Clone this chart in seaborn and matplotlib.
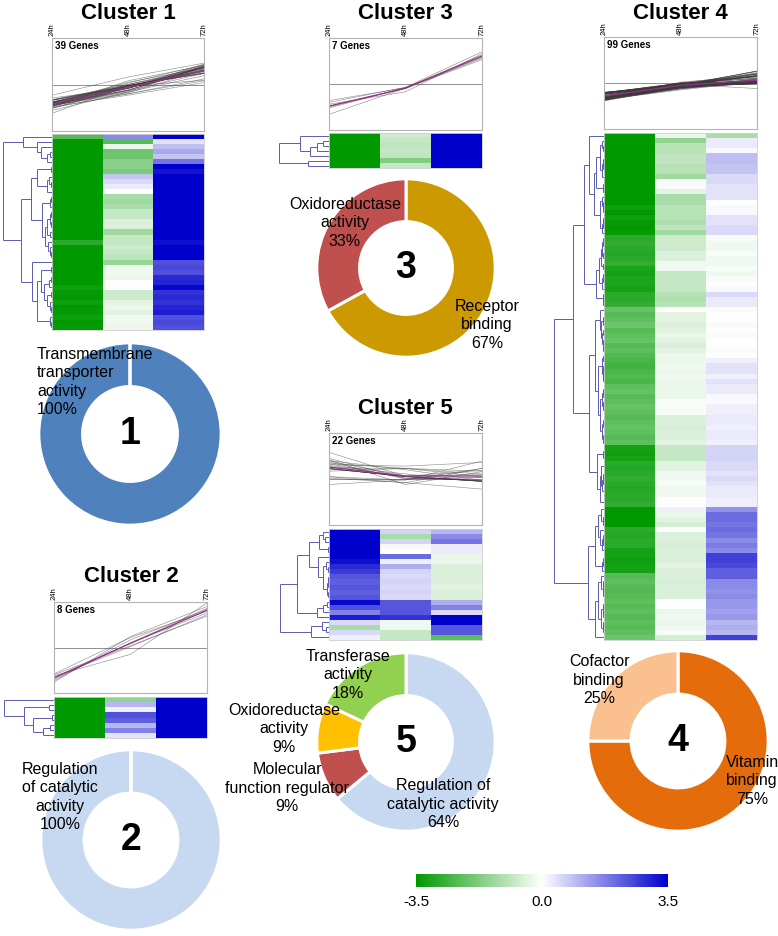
import numpy as np
import pandas as pd
import matplotlib
matplotlib.use("Agg")
import matplotlib.pyplot as plt
import seaborn as sns
from matplotlib.colors import LinearSegmentedColormap, Normalize
from matplotlib.cm import ScalarMappable

# ---------------- data ----------------
# expression values per gene (heatmap colour saturates at +-3.5)
TIMES = ["24h", "48h", "72h"]

C1_24h = [-2.3, -4.8, -5.2, -4.5, -5.0, -4.2, -5.6, -4.4, -4.9, -3.9, -4.1, -3.8, -4.6, -4.3,
          -4.0, -3.7, -4.4, -4.1, -3.9, -4.2, -4.5, -2.9, -4.0, -3.8, -4.3, -4.6, -4.1, -3.9,
          -4.4, -4.7, -3.3, -3.4, -5.1, -3.3, -6.2, -3.4, -3.3, -3.8, -3.4]
C1_48h = [1.6, -2.3, -0.3, -2.0, -2.0, -1.6, -1.6, -1.8, 0.8, 0.5, 0.3, 0.0, -1.2, -1.3,
          -1.2, -0.8, -0.8, -0.5, -0.5, -1.3, -0.8, -0.8, -0.7, -0.8, -0.9, -1.4, -0.3, -0.2,
          -0.3, 0.0, 0.0, -0.7, -0.7, -0.4, -0.3, -0.4, -0.2, -0.2, -0.3]
C1_72h = [4.6, 0.4, 0.9, 1.2, 0.8, 1.9, 3.9, 3.2, 4.1, 3.6, 4.3, 3.8, 3.7, 4.0,
          3.5, 4.4, 3.9, 3.6, 4.2, 3.8, 3.7, 3.3, 4.0, 3.6, 3.9, 2.4, 2.5, 2.4,
          2.9, 3.0, 3.4, 2.8, 2.9, 2.8, 3.0, 3.1, 2.4, 2.5, 2.4]

C2_24h = [-6.2, -7.0, -6.5, -7.6, -5.8, -6.8, -7.3, -6.0]
C2_48h = [-1.5, 1.0, 0.2, 2.4, 2.2, 1.0, 1.7, 0.4]
C2_72h = [9.8, 8.6, 7.2, 9.0, 8.0, 7.6, 8.4, 6.9]

C3_24h = [-4.0, -3.6, -4.8, -5.2, -6.6, -4.4, -5.0]
C3_48h = [-0.7, -0.8, -0.9, -0.8, -0.9, -1.7, -0.8]
C3_72h = [7.0, 6.3, 5.6, 6.0, 5.3, 6.6, 5.8]

C4_24h = [-3.5, -3.6, -3.8, -3.5, -3.7, -3.6, -3.9, -3.5, -3.6, -3.8, -3.5, -3.7, -3.6, -3.5,
          -3.3, -3.5, -3.3, -3.4, -3.5, -3.4,
          -2.9, -2.8, -2.9, -3.0, -2.9, -2.8,
          -3.1, -3.2, -3.1, -3.1, -3.2,
          -2.9, -2.9, -2.8,
          -2.1, -2.3, -2.2, -2.0, -2.3, -2.2, -2.1, -2.3, -2.2, -2.4,
          -2.5, -2.6, -2.5, -2.4, -2.5,
          -2.2, -2.1, -2.3, -2.2, -2.1, -2.2, -2.3, -2.2, -2.1, -2.2, -2.3, -2.2,
          -3.2, -3.3, -3.2,
          -2.9, -3.0, -2.9, -2.8, -2.9, -3.0, -2.9, -2.9, -2.8,
          -3.6, -3.8, -3.5, -3.7,
          -2.9, -3.0, -2.9, -2.9,
          -3.2, -3.2, -3.3, -3.2, -3.2,
          -2.3, -2.2, -2.3, -2.4, -2.3, -2.2, -2.3, -2.2, -2.3, -2.2, -2.3, -2.2, -2.0]
C4_48h = [-0.3, -1.5, -1.0, -1.0, -0.9, -0.9, -1.0, -1.0, -1.3, -0.1, -0.1, -0.4, -1.2, -1.2,
          -1.0, -1.0, -1.0, -1.1, -0.9, -1.3, -0.7, -0.7, -0.7, -0.5, -0.5, -0.2, -0.2,
          -0.8, -0.8, -0.8, -0.8, -1.0, -1.1, -1.0, 0.0,
          -0.4, -0.4, -0.5, -0.4, -0.3, -0.4, -0.5, -0.4, -0.3,
          -0.3, -0.2, -0.3, -0.2, -0.3,
          -0.3, -0.3, -0.3, -0.1, -0.1, -0.1,
          -0.5, -0.5, -0.6, -0.5, -0.5, -0.4,
          -0.8, -0.8, -0.8, -0.4, -0.4,
          -0.2, -0.2, -0.1, -0.2, -0.2, 0.0, 0.0,
          0.2, -0.3, -0.4, -0.6, 0.0,
          -0.5, -0.5, -0.6, -0.5, -0.5, -0.5, -0.4, -0.5, -0.5, -0.6, -0.5, -0.5, -0.5,
          0.0, 0.0, -0.3, -0.2, -0.3, -0.2, -0.1, -0.6]
C4_72h = [-1.2, 0.3, 0.3, 0.1, 0.9, 0.9, 0.8, 0.8, 0.5, 0.5, 0.4, 0.4, 0.4, 0.0,
          0.1, 0.1, 0.4, 0.4, 0.5, 0.5,
          -0.1, -0.2, -0.2, -0.1, -0.2, -0.2, -0.1,
          -0.2, -0.1, 0.0, 0.1, 0.5, 0.3, 0.3,
          -0.1, 0.0, 0.0, -0.1, 0.0, -0.1, 0.0, 0.0, -0.1, 0.0,
          0.2, 0.4, 0.4, 0.2, 0.4,
          0.3, 0.3, 0.1, 0.1, 0.2, 0.2, 0.3, 0.3, 0.2, 0.3, 0.3, 0.2,
          0.6, 0.6, 0.6, 0.5, 0.5, 0.4, 0.5, 0.4, 0.3, 0.3, 0.2, 0.2,
          1.5, 2.0, 2.0, 1.9, 2.0, 1.9, 1.6, 1.8, 1.6,
          2.6, 2.6, 2.5, 2.2, 2.2, 1.6, 1.6, 1.5, 1.6, 1.4, 1.4, 1.3, 1.4,
          1.0, 1.1, 1.0, 2.6]

C5_24h = [5.8, 4.2, 3.9, 4.5, 3.7, 4.0, 3.3, 2.9, 2.7, 2.3, 2.2, 2.3, 2.2, 2.3,
          3.4, 2.4, 1.7, 3.1, 0.5, -1.2, 0.5, 0.2]
C5_48h = [0.6, -1.2, 0.6, 0.1, 0.0, 2.0, 0.2, 1.1, 0.6, 0.5, 0.6, 0.5, 0.6, 0.5,
          2.3, 2.3, 2.3, 2.8, -0.2, -0.2, -0.8, -0.8]
C5_72h = [1.0, 1.6, 1.9, 0.3, 0.3, -0.3, -0.3, -0.5, -0.5, -0.5, -0.5, -0.4, -0.5, -0.5,
          1.1, 1.7, 0.5, 3.6, 3.9, 2.3, 2.3, -2.2]

# GO category pies
C1_CATS = ["Transmembrane\ntransporter\nactivity"]
C1_PCT = [100]
C2_CATS = ["Regulation\nof catalytic\nactivity"]
C2_PCT = [100]
C3_CATS = ["Receptor\nbinding", "Oxidoreductase\nactivity"]
C3_PCT = [67, 33]
C4_CATS = ["Vitamin\nbinding", "Cofactor\nbinding"]
C4_PCT = [75, 25]
C5_CATS = ["Regulation of\ncatalytic activity", "Molecular\nfunction regulator",
           "Oxidoreductase\nactivity", "Transferase\nactivity"]
C5_PCT = [64, 9, 9, 18]

CBAR_TICKS = [-3.5, 0.0, 3.5]

# ---------------- style ----------------
sns.set_theme(style="white")
plt.rcParams["font.family"] = ["Liberation Sans", "DejaVu Sans"]
plt.rcParams["axes.unicode_minus"] = False
plt.rcParams["text.color"] = "black"
plt.rcParams["xtick.color"] = "black"
plt.rcParams["xtick.labelcolor"] = "black"

W, H = 778, 936
fig = plt.figure(figsize=(W / 100, H / 100), dpi=100)

cmap = LinearSegmentedColormap.from_list("gwb", ["#009900", "#ffffff", "#0000cc"])
DCOL = "#5a5ab4"
YLIM = 10


def box(x0, y0, x1, y1):
    return fig.add_axes([x0 / W, 1 - y1 / H, (x1 - x0) / W, (y1 - y0) / H])


def ftext(x, y, s, **kw):
    return fig.text(x / W, 1 - y / H, s, **kw)


def matrix(a, b, c):
    return np.column_stack([np.array(a, float), np.array(b, float), np.array(c, float)])


def draw_lines(rect, data):
    ax = box(*rect)
    n = data.shape[0]
    df = pd.DataFrame({"gene": np.repeat(np.arange(n), 3),
                       "time": np.tile([0, 1, 2], n),
                       "value": data.ravel()})
    ax.axhline(0, color="#8f8f8f", lw=0.7, zorder=1)
    sns.lineplot(data=df, x="time", y="value", units="gene", estimator=None,
                 color="#3a3a3a", lw=0.45, alpha=0.55, ax=ax, legend=False)
    sns.lineplot(x=[0, 1, 2], y=data.mean(axis=0), color="#9b2d8f", lw=0.9, ax=ax)
    ax.set_xlim(0, 2)
    ax.set_ylim(-YLIM, YLIM)
    ax.xaxis.tick_top()
    ax.set_xticks([0, 1, 2])
    ax.set_xticklabels(TIMES, rotation=90, fontsize=5.5)
    ax.tick_params(axis="x", length=0, pad=1.5)
    ax.set_yticks(np.linspace(-YLIM, YLIM, 13))
    ax.tick_params(axis="y", length=2, width=0.5, color="#c8c8c8", direction="in", labelleft=False)
    ax.set_xlabel("")
    ax.set_ylabel("")
    for s in ax.spines.values():
        s.set_color("#b3b3b3")
        s.set_linewidth(0.8)
    ax.text(0.02, 0.965, f"{n} Genes", transform=ax.transAxes, fontsize=7,
            fontweight="bold", va="top", ha="left")


def draw_heat(rect, data):
    ax = box(*rect)
    sns.heatmap(data, cmap=cmap, vmin=-3.5, vmax=3.5, cbar=False,
                xticklabels=False, yticklabels=False, ax=ax)
    for s in ax.spines.values():
        s.set_visible(True)
        s.set_color("#cfcfcf")
        s.set_linewidth(0.6)


def draw_dendro(rect, data):
    ax = box(*rect)
    n = data.shape[0]
    clipped = np.clip(data, -3.5, 3.5)
    nodes = [(0.0, i + 0.5, clipped[i].copy(), 1) for i in range(n)]
    segs = []
    while len(nodes) > 1:
        costs = []
        for k in range(len(nodes) - 1):
            a, b = nodes[k], nodes[k + 1]
            ca, cb = a[2] / a[3], b[2] / b[3]
            w = a[3] * b[3] / (a[3] + b[3])
            costs.append(np.sqrt(w) * np.linalg.norm(ca - cb) + 0.02 * (a[3] + b[3]))
        k = int(np.argmin(costs))
        a, b = nodes[k], nodes[k + 1]
        h = max(a[0], b[0]) + 0.12 + costs[k]
        segs.append(([a[0], h], [a[1], a[1]]))
        segs.append(([b[0], h], [b[1], b[1]]))
        segs.append(([h, h], [a[1], b[1]]))
        nodes[k:k + 2] = [(h, (a[1] + b[1]) / 2, a[2] + b[2], a[3] + b[3])]
    root_h = nodes[0][0]
    for xs, ys in segs:
        ax.plot(xs, ys, color=DCOL, lw=0.7, solid_capstyle="butt")
    ax.set_xlim(root_h * 1.03, 0)
    ax.set_ylim(n, 0)
    ax.axis("off")


def draw_donut(cx, cy, r, pct, colors, number):
    ax = box(cx - r, cy - r, cx + r, cy + r)
    ax.pie(pct, colors=colors, startangle=90, counterclock=False, radius=1,
           wedgeprops=dict(width=0.48, edgecolor="white", linewidth=2.2))
    if len(pct) == 1:
        ax.plot([0, 0], [0.5, 1.02], color="white", lw=2.6)
    ax.set_xlim(-1.02, 1.02)
    ax.set_ylim(-1.02, 1.02)
    ax.text(0, 0, number, ha="center", va="center", fontsize=27, fontweight="bold")


def label(x, y, name, pct, ha="center"):
    ftext(x, y, f"{name}\n{pct}%", ha=ha, va="center", fontsize=11.5,
          linespacing=1.3, multialignment=ha)


def title(x, y, s):
    ftext(x, y, s, ha="center", va="baseline", fontsize=16, fontweight="bold")


D1 = matrix(C1_24h, C1_48h, C1_72h)
D2 = matrix(C2_24h, C2_48h, C2_72h)
D3 = matrix(C3_24h, C3_48h, C3_72h)
D4 = matrix(C4_24h, C4_48h, C4_72h)
D5 = matrix(C5_24h, C5_48h, C5_72h)

# Cluster 1
title(128, 19, "Cluster 1")
draw_lines((52, 38, 204, 131), D1)
draw_dendro((2, 134, 52, 330), D1)
draw_heat((52, 134, 204, 330), D1)
draw_donut(130, 434, 93, C1_PCT, ["#4f81bd"], "1")
label(37, 382, C1_CATS[0], C1_PCT[0], ha="left")

# Cluster 2
title(131, 582, "Cluster 2")
draw_lines((54, 602, 207, 693), D2)
draw_dendro((3, 697, 54, 738), D2)
draw_heat((54, 697, 207, 738), D2)
draw_donut(131, 840, 92, C2_PCT, ["#c6d9f1"], "2")
label(60, 797, C2_CATS[0], C2_PCT[0])

# Cluster 3
title(405, 19, "Cluster 3")
draw_lines((329, 38, 482, 130), D3)
draw_dendro((278, 133, 329, 168), D3)
draw_heat((329, 133, 482, 168), D3)
draw_donut(406, 268, 91, C3_PCT, ["#cc9900", "#c0504d"], "3")
label(487, 325, C3_CATS[0], C3_PCT[0])
label(345, 223, C3_CATS[1], C3_PCT[1])

# Cluster 4
title(680, 19, "Cluster 4")
draw_lines((604, 37, 757, 129), D4)
draw_dendro((553, 133, 604, 640), D4)
draw_heat((604, 133, 757, 640), D4)
draw_donut(678, 741, 92, C4_PCT, ["#e46c0a", "#fac090"], "4")
label(752, 781, C4_CATS[0], C4_PCT[0])
label(599, 680, C4_CATS[1], C4_PCT[1])

# Cluster 5
title(405, 414, "Cluster 5")
draw_lines((329, 433, 482, 525), D5)
draw_dendro((279, 529, 329, 640), D5)
draw_heat((329, 529, 482, 640), D5)
draw_donut(406, 742, 91, C5_PCT, ["#c6d9f1", "#c0504d", "#ffc000", "#92d050"], "5")
label(443, 804, C5_CATS[0], C5_PCT[0])
label(287, 788, C5_CATS[1], C5_PCT[1])
label(284, 729, C5_CATS[2], C5_PCT[2])
label(348, 675, C5_CATS[3], C5_PCT[3])

# colour bar
cax = box(416, 874, 668, 887)
sm = ScalarMappable(norm=Normalize(-3.5, 3.5), cmap=cmap)
cb = fig.colorbar(sm, cax=cax, orientation="horizontal", ticks=CBAR_TICKS)
cb.outline.set_visible(False)
cb.set_ticklabels([f"{t:.1f}" for t in CBAR_TICKS])
cax.tick_params(length=0, labelsize=11, pad=6, labelcolor="black")

fig.savefig("out.png", dpi=100)
